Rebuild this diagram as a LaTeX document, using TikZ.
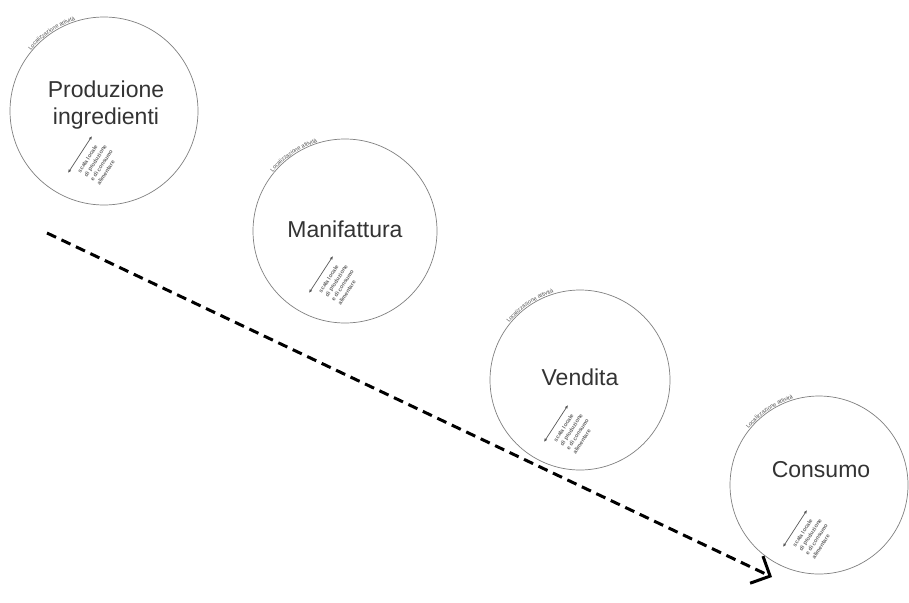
\documentclass[tikz,border=0pt]{standalone}
\usepackage{fontspec}
\setmainfont{Liberation Sans}
\usetikzlibrary{arrows.meta,decorations.text,calc}

% small scale glyph inside each circle: double arrow and four lines of text
\newcommand{\scalemark}[2]{%
  \coordinate (#2a) at ($(#1)+(-36,-62)$);
  \coordinate (#2b) at ($(#1)+(-12,-25)$);
  \draw[{Latex[length=3.5pt,width=3pt]}-{Latex[length=3.5pt,width=3pt]},black!65,line width=0.7pt] (#2a) -- (#2b);
  \node[rotate=57,anchor=north west,inner sep=0pt,align=left,text=black!60,
        font=\fontsize{5.6}{7.6}\selectfont\bfseries] (#2t) at ($(#1)+(-27,-60)$)
        {scala locale\\di produzione\\e di consumo\\alimentare};
}
% label along the upper left arc of a circle
\newcommand{\arclabel}[2]{%
  \path[decorate,decoration={text along path,text align=center,
        text={|\fontsize{5.6}{6}\selectfont\color{black!70}|Localizzazione attività}}]
    ($(#1)+(150:#2)$) arc[start angle=150,end angle=98,radius=#2];
}

\begin{document}
\begin{tikzpicture}[x=1pt,y=1pt]
  \useasboundingbox (0,0) rectangle (909,-602);
  \fill[white] (0,0) rectangle (909,-602);
  \begin{scope}[every node/.style={circle,draw=black!50,line width=0.7pt,inner sep=0pt}]
    \node[minimum size=188pt] (prod) at (104,-111) {};
    \node[minimum size=184pt] (manif) at (345,-231) {};
    \node[minimum size=180pt] (vend) at (580,-380) {};
    \node[minimum size=178pt] (cons) at (819,-485) {};
  \end{scope}
  \begin{scope}[every node/.style={align=center,text=black!80,font=\fontsize{23}{27}\selectfont}]
    \node (prodtxt) at ($(prod)+(2,6)$) {Produzione\\ingredienti};
    \node (maniftxt) at ($(manif)+(0,2)$) {Manifattura};
    \node (vendtxt) at ($(vend)+(0,3)$) {Vendita};
    \node (constxt) at ($(cons)+(2,15)$) {Consumo};
  \end{scope}
  \arclabel{prod}{95pt}
  \arclabel{manif}{93pt}
  \arclabel{vend}{91pt}
  \arclabel{cons}{90pt}
  \scalemark{prod}{p}
  \scalemark{manif}{m}
  \scalemark{vend}{v}
  \scalemark{cons}{c}
  \coordinate (start) at (47,-233);
  \coordinate (end) at (772,-577);
  \draw[line width=3pt,dash pattern=on 10pt off 6pt,
        -{Straight Barb[length=15pt,width=30pt]}] (start) -- (end);
\end{tikzpicture}
\end{document}
